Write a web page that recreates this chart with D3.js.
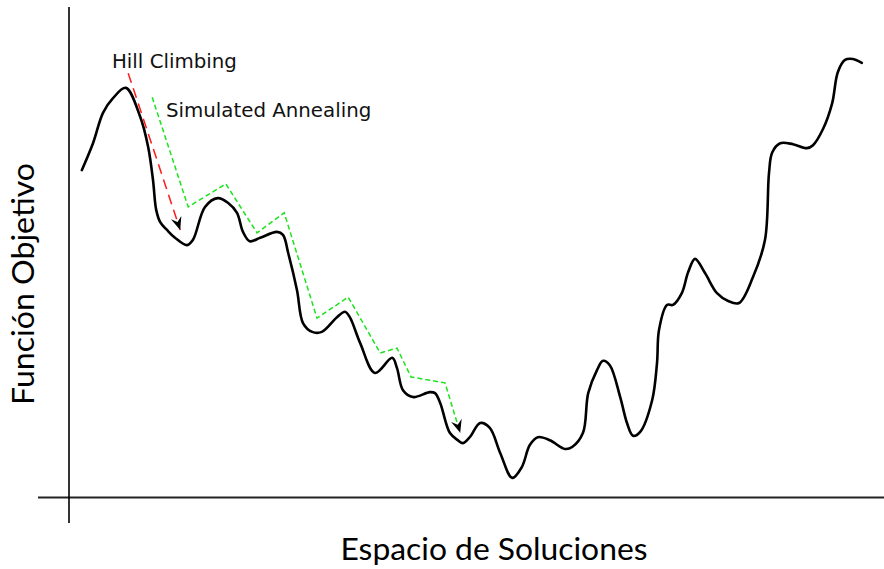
<!DOCTYPE html>
<html>
<head>
<meta charset="utf-8">
<script src="https://cdn.jsdelivr.net/npm/d3@7"></script>
<style>
  html, body { margin: 0; padding: 0; background: #fff; }
  svg { display: block; }
</style>
</head>
<body>
<div id="chart"></div>
<script>
// ------- Data (x: position in solution space, y: objective value, 0..100) -------

const landscapeX = [1.6, 3.0, 4.25, 5.5, 7.1, 8.9, 9.9, 10.5, 10.9, 11.4, 12.25, 13.25, 14.75, 15.5, 17.0,
  18.6, 19.9, 21.0, 21.75, 22.6, 23.9, 26.0, 26.75, 27.4, 28.5, 29.25, 30.4, 31.6, 33.5, 34.5, 35.1,
  36.4, 38.25, 40.4, 41.0, 41.75, 43.0, 45.1, 45.75, 46.4, 47.6, 48.6, 49.25, 50.1, 51.4, 52.6, 53.9,
  55.4, 56.6, 57.6, 58.6, 60.1, 62.0, 62.9, 64.25, 64.9, 66.0, 66.75, 67.6, 68.9, 69.75, 70.5, 71.4,
  72.9, 73.5, 73.75, 74.75, 75.5, 76.6, 77.4, 78.25, 79.5, 81.0, 82.4, 83.75, 85.5, 87.0, 87.5, 87.9,
  88.9, 90.5, 92.25, 93.0, 94.25, 95.4, 96.1, 97.0, 98.0, 99.1];

const landscapeY = [66.8, 72.3, 78.5, 81.5, 83.6, 77.7, 71.5, 64.8, 58.7, 56.2, 54.6, 53.0, 51.5, 52.6, 59.3,
  61.1, 60.1, 58.1, 54.2, 52.3, 53.0, 54.2, 53.6, 49.9, 42.3, 35.6, 33.8, 33.8, 36.8, 37.9, 36.8,
  31.5, 25.4, 28.5, 26.4, 21.9, 20.5, 21.5, 21.3, 19.3, 13.2, 11.7, 11.1, 12.3, 15.2, 14.2, 9.1,
  4.0, 6.2, 10.7, 12.3, 11.7, 9.9, 10.3, 13.2, 21.3, 26.0, 27.9, 27.0, 20.5, 15.2, 12.6, 13.4,
  19.9, 27.4, 34.2, 39.3, 39.3, 41.7, 46.0, 48.7, 45.8, 41.7, 40.1, 39.7, 45.0, 52.6, 66.2, 70.4,
  72.3, 72.1, 71.3, 71.9, 75.2, 80.5, 86.8, 89.3, 89.5, 88.7];

// hill climbing: one straight step down into the nearest valley
const hillX = [7.4, 13.9];
const hillY = [86.6, 54.6];

// simulated annealing: zig-zag path that escapes local minima
const annealX = [10.4, 14.9, 19.6, 23.5, 26.9, 31.0, 34.9, 38.9, 41.0, 42.75, 47.0, 48.9];
const annealY = [81.7, 59.3, 64.0, 54.0, 58.1, 36.6, 40.9, 29.5, 30.5, 24.6, 23.4, 13.2];

const labels = {
  x: "Espacio de Soluciones",
  y: "Función Objetivo",
  hill: "Hill Climbing",
  anneal: "Simulated Annealing",
};

// ------- SVG setup -------

const width = 884;
const height = 569;

const svg = d3
  .select("#chart")
  .append("svg")
  .attr("width", width)
  .attr("height", height);

const x = d3.scaleLinear().domain([0, 100]).range([69, 869]);
const y = d3.scaleLinear().domain([0, 100]).range([497.5, 7.5]);

const zip = (xs, ys) => xs.map((v, i) => [v, ys[i]]);

// arrow head used by both search paths
svg
  .append("defs")
  .append("marker")
  .attr("id", "head")
  .attr("viewBox", "-14 -7 16 14")
  .attr("refX", 0)
  .attr("refY", 0)
  .attr("markerWidth", 16)
  .attr("markerHeight", 14)
  .attr("markerUnits", "userSpaceOnUse")
  .attr("orient", "auto")
  .append("path")
  .attr("d", "M0,0 L-13,-5.5 L-8.5,0 L-13,5.5 Z")
  .attr("fill", "#000");

// ------- Axes (plain lines, no ticks) -------

svg
  .append("line")
  .attr("x1", 38)
  .attr("x2", width)
  .attr("y1", y(0))
  .attr("y2", y(0))
  .attr("stroke", "#222")
  .attr("stroke-width", 2);

svg
  .append("line")
  .attr("x1", x(0))
  .attr("x2", x(0))
  .attr("y1", 7)
  .attr("y2", 523)
  .attr("stroke", "#000")
  .attr("stroke-width", 1.6);

// ------- Landscape curve -------

const line = d3
  .line()
  .x((d) => x(d[0]))
  .y((d) => y(d[1]))
  .curve(d3.curveCatmullRom.alpha(0.5));

svg
  .append("path")
  .datum(zip(landscapeX, landscapeY))
  .attr("d", line)
  .attr("fill", "none")
  .attr("stroke", "#000")
  .attr("stroke-width", 2.6)
  .attr("stroke-linejoin", "round")
  .attr("stroke-linecap", "round");

// ------- Search paths -------

const straight = d3
  .line()
  .x((d) => x(d[0]))
  .y((d) => y(d[1]));

svg
  .append("path")
  .datum(zip(hillX, hillY))
  .attr("d", straight)
  .attr("fill", "none")
  .attr("stroke", "#ff1a1a")
  .attr("stroke-width", 1.5)
  .attr("stroke-dasharray", "10,6")
  .attr("marker-end", "url(#head)");

svg
  .append("path")
  .datum(zip(annealX, annealY))
  .attr("d", straight)
  .attr("fill", "none")
  .attr("stroke", "#1de21d")
  .attr("stroke-width", 1.5)
  .attr("stroke-dasharray", "5,3")
  .attr("marker-end", "url(#head)");

// ------- Text -------

svg
  .append("text")
  .attr("x", 112)
  .attr("y", 68)
  .attr("font-family", "DejaVu Sans")
  .attr("font-size", 19.8)
  .attr("fill", "#111")
  .text(labels.hill);

svg
  .append("text")
  .attr("x", 166)
  .attr("y", 117)
  .attr("font-family", "DejaVu Sans")
  .attr("font-size", 19.8)
  .attr("fill", "#111")
  .text(labels.anneal);

svg
  .append("text")
  .attr("x", 494)
  .attr("y", 560)
  .attr("text-anchor", "middle")
  .attr("font-family", "Lato")
  .attr("font-size", 31)
  .attr("textLength", 307)
  .attr("lengthAdjust", "spacingAndGlyphs")
  .text(labels.x);

svg
  .append("text")
  .attr("transform", "translate(34,284) rotate(-90)")
  .attr("text-anchor", "middle")
  .attr("font-family", "Lato")
  .attr("font-size", 30)
  .attr("textLength", 242)
  .attr("lengthAdjust", "spacingAndGlyphs")
  .text(labels.y);
</script>
</body>
</html>
